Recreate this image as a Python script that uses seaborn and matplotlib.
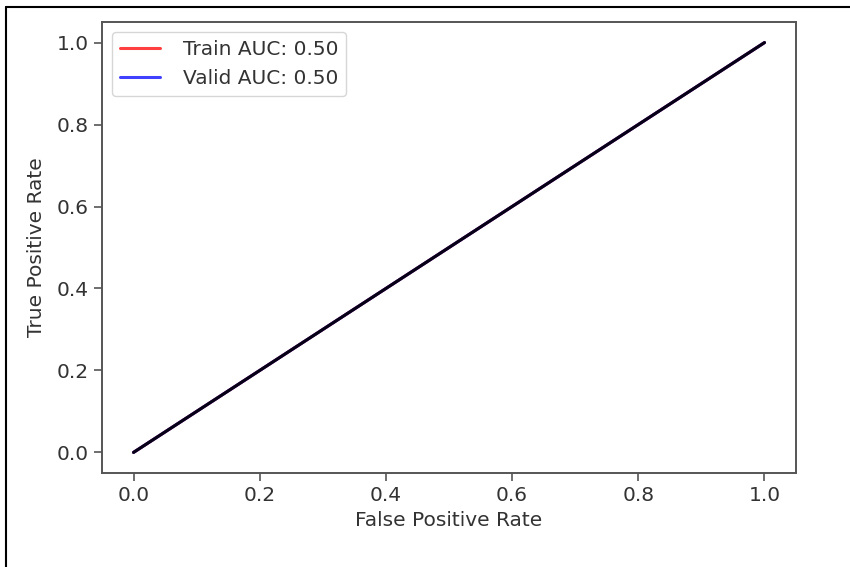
import matplotlib
matplotlib.use("Agg")
import matplotlib.pyplot as plt
import seaborn as sns
import pandas as pd
from matplotlib.lines import Line2D

# Data
train_fpr = [0.0, 1.0]
train_tpr = [0.0, 1.0]
valid_fpr = [0.0, 1.0]
valid_tpr = [0.0, 1.0]
diag = [0.0, 1.0]
train_auc = 0.50
valid_auc = 0.50
xticks = [0.0, 0.2, 0.4, 0.6, 0.8, 1.0]
yticks = [0.0, 0.2, 0.4, 0.6, 0.8, 1.0]

sns.set_style("ticks")
plt.rcParams['font.family'] = ['DejaVu Sans']
plt.rcParams['font.size'] = 14.5

fig = plt.figure(figsize=(8.5, 5.67), dpi=100)
ax = fig.add_axes([0.12, 0.166, 0.8165, 0.795])

sns.lineplot(x=train_fpr, y=train_tpr, ax=ax, color="red", alpha=0.75, lw=2.2,
             label=f"Train AUC: {train_auc:.2f}")
sns.lineplot(x=valid_fpr, y=valid_tpr, ax=ax, color="blue", alpha=0.75, lw=2.2,
             label=f"Valid AUC: {valid_auc:.2f}")
sns.lineplot(x=diag, y=diag, ax=ax, color="black", lw=2.2, alpha=0.9)

ax.set_xticks(xticks)
ax.set_yticks(yticks)
ax.set_xticklabels([f"{t:.1f}" for t in xticks], fontsize=14.5, color="#333333")
ax.set_yticklabels([f"{t:.1f}" for t in yticks], fontsize=14.5, color="#333333")
ax.set_xlabel("False Positive Rate", fontsize=14.5, color="#333333")
ax.set_ylabel("True Positive Rate", fontsize=14.5, color="#333333", labelpad=8)
for s in ax.spines.values():
    s.set_visible(True)
    s.set_color("#555555")
    s.set_linewidth(1.4)
ax.tick_params(length=6, width=1.2, color="#555555")
leg = ax.legend(loc="upper left", fontsize=14.5, frameon=True, handletextpad=1.1)
for t in leg.get_texts():
    t.set_color("#333333")

# Screenshot frame
fig.add_artist(Line2D([6/850, 1.0], [1 - 7/567, 1 - 7/567], transform=fig.transFigure,
                      color="black", lw=1.5))
fig.add_artist(Line2D([6/850, 6/850], [0.0, 1 - 7/567], transform=fig.transFigure,
                      color="black", lw=1.5))

fig.savefig("out.png", dpi=100, facecolor="white")
